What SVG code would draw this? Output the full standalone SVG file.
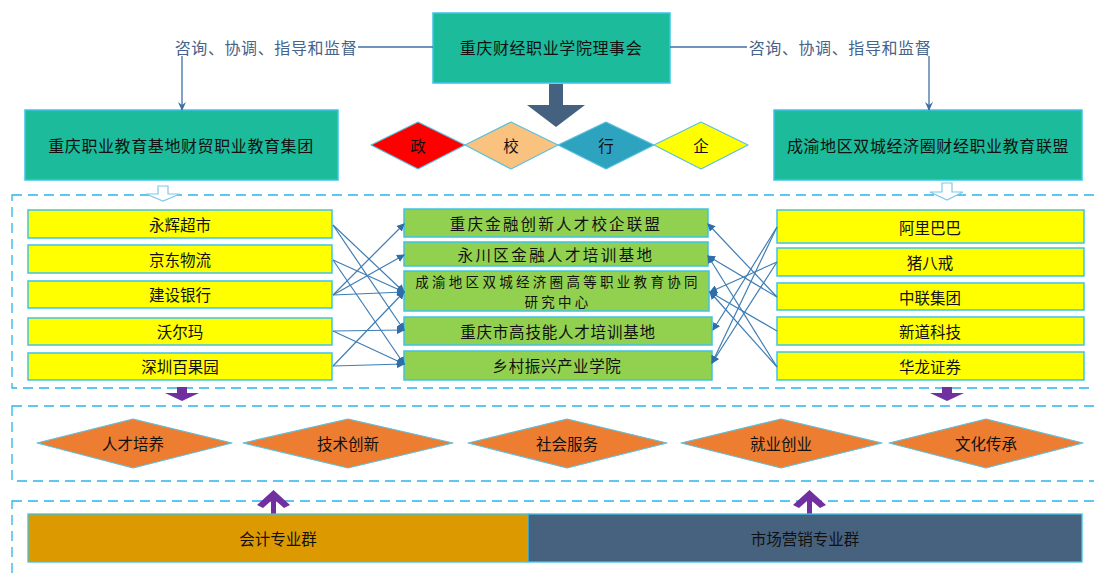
<svg xmlns="http://www.w3.org/2000/svg" width="1094" height="573" viewBox="0 0 1094 573">
<style>
text{font-family:"Noto Sans CJK SC","Noto Sans CJK JP",sans-serif;fill:#111;text-anchor:middle;dominant-baseline:central;font-size:15.5px}
.teal{fill:#1BBB9B;stroke:#3EC3E6;stroke-width:1.5}
.yel{fill:#FFFF00;stroke:#3EC3E6;stroke-width:1.5}
.grn{fill:#92D050;stroke:#3EC3E6;stroke-width:1.5}
.org{fill:#ED7D31;stroke:#5BC0DE;stroke-width:1.2;stroke-linejoin:round}
.dash{fill:none;stroke:#2AB4EA;stroke-width:1.3;stroke-dasharray:10 6}
.lbl{fill:#46648A;font-size:15.5px}
.conn{stroke:#3F7DB4;stroke-width:1.2;fill:none;marker-end:url(#ah)}
.sup{stroke:#3F6FA4;stroke-width:1.3;fill:none}
.big{font-size:16px;letter-spacing:0.6px}
.two{font-size:13.5px;letter-spacing:3.3px}
</style>
<defs>
<marker id="ah" markerWidth="8" markerHeight="8" refX="7" refY="4" orient="auto" markerUnits="userSpaceOnUse">
<path d="M0,0 L8,4 L0,8 Z" fill="#2F6EA8"/>
</marker>
<marker id="ah2" markerWidth="9" markerHeight="8" refX="8" refY="4" orient="auto" markerUnits="userSpaceOnUse">
<path d="M0,0 L9,4 L0,8 L3,4 Z" fill="#3F6FA4"/>
</marker>
</defs>

<!-- dashed frames -->
<g id="frames">
<rect class="dash" x="12" y="195" width="1090" height="193"/>
<rect class="dash" x="12" y="406" width="1090" height="75"/>
<rect class="dash" x="12" y="501" width="1090" height="90"/>
</g>

<!-- top -->
<g id="council">
<rect class="teal" x="433" y="13" width="237" height="70"/>
<text class="big" x="551" y="47">重庆财经职业学院理事会</text>
</g>
<g id="label-left"><text class="lbl big" x="266" y="47">咨询、协调、指导和监督</text></g>
<g id="label-right"><text class="lbl big" x="840" y="47">咨询、协调、指导和监督</text></g>

<g id="group-left">
<rect class="teal" x="25" y="110" width="313" height="70"/>
<text class="big" x="181" y="145">重庆职业教育基地财贸职业教育集团</text>
</g>
<g id="group-right">
<rect class="teal" x="774" y="110" width="308" height="70"/>
<text class="big" x="928" y="145">成渝地区双城经济圈财经职业教育联盟</text>
</g>

<!-- big arrow -->
<g id="big-arrow">
<path d="M549,84 L563,84 L563,105 L585,105 L556,127 L527,105 L549,105 Z" fill="#44627F"/>
</g>

<!-- 政校行企 -->
<g id="zheng"><path class="org" d="M371,145 L418,122 L465,145 L418,169 Z" style="fill:#FF0000"/><text x="418" y="145">政</text></g>
<g id="xiao"><path class="org" d="M465,145 L511,122 L558,145 L511,169 Z" style="fill:#FAC27F"/><text x="511" y="145">校</text></g>
<g id="hang"><path class="org" d="M558,145 L606,122 L654,145 L606,169 Z" style="fill:#2EA3C0"/><text x="606" y="145">行</text></g>
<g id="qi"><path class="org" d="M654,145 L701,122 L748,145 L701,169 Z" style="fill:#FFFF00"/><text x="701" y="145">企</text></g>

<!-- hollow arrows -->
<g id="hollow-arrows" fill="#fff" stroke="#7CC8EA" stroke-width="1.2">
<path d="M158,186 L168,186 L168,194 L180,194 L163,201 L146,194 L158,194 Z"/>
<path d="M942,183 L952,183 L952,192 L963,192 L947,200 L930,192 L942,192 Z"/>
</g>

<!-- left companies -->
<g id="yonghui"><rect class="yel" x="28" y="210" width="304" height="28"/><text x="180" y="224">永辉超市</text></g>
<g id="jingdong"><rect class="yel" x="28" y="245" width="304" height="28"/><text x="180" y="259">京东物流</text></g>
<g id="jianshe"><rect class="yel" x="28" y="281" width="304" height="27"/><text x="180" y="294">建设银行</text></g>
<g id="woerma"><rect class="yel" x="28" y="318" width="304" height="27"/><text x="180" y="331">沃尔玛</text></g>
<g id="shenzhen"><rect class="yel" x="28" y="353" width="304" height="27"/><text x="180" y="366">深圳百果园</text></g>

<!-- middle platforms -->
<g id="jinrong"><rect class="grn" x="404" y="209" width="304" height="28"/><text x="556" y="223" style="letter-spacing:2.2px">重庆金融创新人才校企联盟</text></g>
<g id="yongchuan"><rect class="grn" x="404" y="242" width="304" height="24"/><text x="556" y="254" style="letter-spacing:2.4px">永川区金融人才培训基地</text></g>
<g id="chengyu"><rect class="grn" x="404" y="271" width="305" height="40"/><text class="two" x="558" y="281">成渝地区双城经济圈高等职业教育协同</text><text class="two" x="558" y="301">研究中心</text></g>
<g id="gaojineng"><rect class="grn" x="404" y="317" width="308" height="28"/><text x="558" y="331" style="letter-spacing:0.8px">重庆市高技能人才培训基地</text></g>
<g id="xiangcun"><rect class="grn" x="404" y="351" width="308" height="29"/><text x="557" y="365" style="letter-spacing:0.6px">乡村振兴产业学院</text></g>

<!-- right companies -->
<g id="alibaba"><rect class="yel" x="777" y="210" width="307" height="33"/><text x="930" y="227">阿里巴巴</text></g>
<g id="zhubajie"><rect class="yel" x="777" y="248" width="307" height="28"/><text x="930" y="262">猪八戒</text></g>
<g id="zhonglian"><rect class="yel" x="777" y="283" width="307" height="27"/><text x="930" y="297">中联集团</text></g>
<g id="xindao"><rect class="yel" x="777" y="317" width="307" height="28"/><text x="930" y="331">新道科技</text></g>
<g id="hualong"><rect class="yel" x="777" y="352" width="307" height="28"/><text x="930" y="366">华龙证券</text></g>

<!-- purple arrows -->
<g id="purple-arrows" fill="#7030A0">
<path d="M177,387 L187,387 L187,393 L199,393 L182,401 L165,393 L177,393 Z"/>
<path d="M942,387 L952,387 L952,393 L964,393 L947,401 L930,393 L942,393 Z"/>
<path d="M271,514 L276,514 L276,501 L284,508 L290,505 L273.5,490 L257,505 L263,508 L271,501 Z"/>
<path d="M807,514 L812,514 L812,501 L820,508 L826,505 L809.5,490 L793,505 L799,508 L807,501 Z"/>
</g>

<!-- outcomes -->
<g id="rencai"><path class="org" d="M37,443 L133,419 L232,443 L133,468 Z"/><text x="133" y="443">人才培养</text></g>
<g id="jishu"><path class="org" d="M243,443 L348,419 L453,443 L348,468 Z"/><text x="348" y="443">技术创新</text></g>
<g id="shehui"><path class="org" d="M468,443 L567,419 L667,443 L567,468 Z"/><text x="567" y="443">社会服务</text></g>
<g id="jiuye"><path class="org" d="M681,443 L781,419 L882,443 L781,468 Z"/><text x="781" y="443">就业创业</text></g>
<g id="wenhua"><path class="org" d="M889,443 L986,419 L1083,443 L986,468 Z"/><text x="986" y="443">文化传承</text></g>

<!-- majors -->
<g id="kuaiji"><rect x="28" y="514" width="500" height="48" fill="#DD9A00" stroke="#3EC3E6" stroke-width="1.3"/><text x="278" y="538">会计专业群</text></g>
<g id="yingxiao"><rect x="528" y="514" width="554" height="48" fill="#46627F" stroke="#3EC3E6" stroke-width="1.3"/><text x="805" y="538">市场营销专业群</text></g>

<!-- connectors -->
<g id="connectors">
<path class="sup" d="M358,47 L433,47"/>
<path class="sup" d="M670,47 L747,47"/>
<path class="sup" d="M182,56 L182,110" marker-end="url(#ah2)"/>
<path class="sup" d="M929,56 L929,110" marker-end="url(#ah2)"/>

<path class="conn" d="M333,225 L404,292"/>
<path class="conn" d="M333,225 L404,330"/>
<path class="conn" d="M333,260 L404,292"/>
<path class="conn" d="M333,260 L404,364"/>
<path class="conn" d="M333,295 L404,224"/>
<path class="conn" d="M333,295 L404,255"/>
<path class="conn" d="M333,295 L404,292"/>
<path class="conn" d="M333,331 L404,330"/>
<path class="conn" d="M333,331 L404,364"/>
<path class="conn" d="M333,366 L404,292"/>
<path class="conn" d="M333,366 L404,364"/>

<path class="conn" d="M777,227 L713,330"/>
<path class="conn" d="M777,227 L712,363"/>
<path class="conn" d="M777,262 L710,292"/>
<path class="conn" d="M777,262 L712,363"/>
<path class="conn" d="M777,297 L708,224"/>
<path class="conn" d="M777,297 L708,256"/>
<path class="conn" d="M777,331 L710,292"/>
<path class="conn" d="M777,367 L710,292"/>
<path class="conn" d="M777,367 L708,256"/>
</g>
</svg>
